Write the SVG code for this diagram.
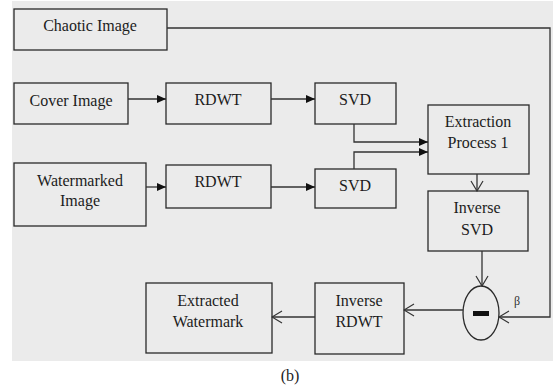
<svg xmlns="http://www.w3.org/2000/svg" width="553" height="390" viewBox="0 0 553 390">
  <defs>
    <marker id="solid" markerWidth="10" markerHeight="10" refX="9" refY="5" orient="auto" markerUnits="userSpaceOnUse">
      <path d="M0,1 L9,5 L0,9 Z" fill="#111"/>
    </marker>
    <marker id="open" markerWidth="12" markerHeight="14" refX="11" refY="7" orient="auto" markerUnits="userSpaceOnUse">
      <path d="M1,1 L11,7 L1,13" fill="none" stroke="#333" stroke-width="1.2"/>
    </marker>
  </defs>
  <style>
    .box { fill: none; stroke: #2a2a2a; stroke-width: 1.3; }
    .lbl { font-size: 16px; fill: #1c1c1c; text-anchor: middle; }
    .wire { fill: none; stroke: #333; stroke-width: 1.3; }
  </style>

  <!-- panel background -->
  <rect x="12" y="1" width="541" height="360" fill="#ebebeb"/>

  <g font-family="Liberation Serif, Times New Roman, serif">
  <g id="chaotic-image">
    <rect class="box" x="14" y="9" width="153" height="41"/>
    <text class="lbl" x="90" y="31">Chaotic Image</text>
  </g>
  <g id="cover-image">
    <rect class="box" x="14" y="83" width="114" height="41"/>
    <text class="lbl" x="71" y="106">Cover Image</text>
  </g>
  <g id="rdwt-1">
    <rect class="box" x="166" y="83" width="105" height="41"/>
    <text class="lbl" x="218" y="105">RDWT</text>
  </g>
  <g id="svd-1">
    <rect class="box" x="315" y="83" width="81" height="41"/>
    <text class="lbl" x="355" y="105">SVD</text>
  </g>
  <g id="watermarked-image">
    <rect class="box" x="14" y="163" width="132" height="63"/>
    <text class="lbl" x="80" y="186">Watermarked</text>
    <text class="lbl" x="80" y="206">Image</text>
  </g>
  <g id="rdwt-2">
    <rect class="box" x="166" y="165" width="105" height="43"/>
    <text class="lbl" x="218" y="187">RDWT</text>
  </g>
  <g id="svd-2">
    <rect class="box" x="315" y="169" width="81" height="39"/>
    <text class="lbl" x="355" y="191">SVD</text>
  </g>
  <g id="extraction-process">
    <rect class="box" x="428" y="105" width="101" height="69"/>
    <text class="lbl" x="478" y="127">Extraction</text>
    <text class="lbl" x="478" y="148">Process 1</text>
  </g>
  <g id="inverse-svd">
    <rect class="box" x="428" y="191" width="100" height="60"/>
    <text class="lbl" x="477" y="213">Inverse</text>
    <text class="lbl" x="477" y="235">SVD</text>
  </g>
  <g id="subtract">
    <ellipse class="box" cx="481" cy="313" rx="18" ry="27"/>
    <rect x="473" y="311" width="16" height="5" fill="#111"/>
  </g>
  <g id="inverse-rdwt">
    <rect class="box" x="315" y="283" width="89" height="71"/>
    <text class="lbl" x="359" y="306">Inverse</text>
    <text class="lbl" x="359" y="327">RDWT</text>
  </g>
  <g id="extracted-watermark">
    <rect class="box" x="146" y="283" width="126" height="70"/>
    <text class="lbl" x="208" y="306">Extracted</text>
    <text class="lbl" x="208" y="327">Watermark</text>
  </g>

  <g id="connectors">
    <line class="wire" x1="128" y1="99" x2="166" y2="99" marker-end="url(#solid)"/>
    <line class="wire" x1="271" y1="99" x2="315" y2="99" marker-end="url(#solid)"/>
    <line class="wire" x1="146" y1="187" x2="166" y2="187" marker-end="url(#solid)"/>
    <line class="wire" x1="271" y1="187" x2="315" y2="187" marker-end="url(#solid)"/>
    <polyline class="wire" points="354,124 354,142 428,142" marker-end="url(#solid)"/>
    <polyline class="wire" points="354,169 354,152 428,152" marker-end="url(#solid)"/>
    <line class="wire" x1="477" y1="174" x2="477" y2="191" marker-end="url(#open)"/>
    <line class="wire" x1="482" y1="251" x2="482" y2="286" marker-end="url(#open)"/>
    <polyline class="wire" points="167,28 550,28 550,317 499,317" marker-end="url(#open)"/>
    <line class="wire" x1="463" y1="310" x2="404" y2="310" marker-end="url(#open)"/>
    <line class="wire" x1="315" y1="317" x2="272" y2="317" marker-end="url(#open)"/>
    <text x="517" y="305" font-size="12" fill="#333" text-anchor="middle">β</text>
  </g>

  <text class="lbl" x="290" y="381">(b)</text>
  </g>
</svg>
